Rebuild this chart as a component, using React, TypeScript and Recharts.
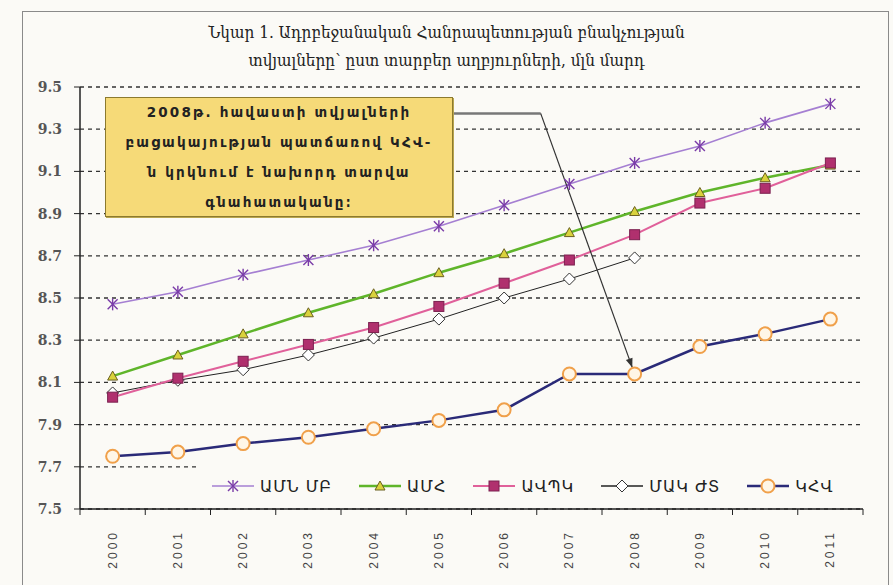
import React from "react";
import {
  LineChart,
  Line,
  XAxis,
  YAxis,
  CartesianGrid,
  ReferenceLine,
} from "recharts";

// population of Azerbaijan by source, mln people
const years = ["2000", "2001", "2002", "2003", "2004", "2005", "2006", "2007", "2008", "2009", "2010", "2011"];
const usCensus = [8.47, 8.53, 8.61, 8.68, 8.75, 8.84, 8.94, 9.04, 9.14, 9.22, 9.33, 9.42];
const imf = [8.13, 8.23, 8.33, 8.43, 8.52, 8.62, 8.71, 8.81, 8.91, 9.0, 9.07, 9.13];
const azStat = [8.03, 8.12, 8.2, 8.28, 8.36, 8.46, 8.57, 8.68, 8.8, 8.95, 9.02, 9.14];
const unDemog = [8.05, 8.11, 8.16, 8.23, 8.31, 8.4, 8.5, 8.59, 8.69, null, null, null];
const cia = [7.75, 7.77, 7.81, 7.84, 7.88, 7.92, 7.97, 8.14, 8.14, 8.27, 8.33, 8.4];

const yTicks = [7.5, 7.7, 7.9, 8.1, 8.3, 8.5, 8.7, 8.9, 9.1, 9.3, 9.5];

const titleLines = [
  "Նկար 1. Ադրբեջանական Հանրապետության բնակչության",
  "տվյալները՝ ըստ տարբեր աղբյուրների, մլն մարդ",
];
const noteLines = [
  "2008թ. հավաստի տվյալների",
  "բացակայության պատճառով ԿՀՎ-",
  "ն կրկնում է նախորդ տարվա",
  "գնահատականը։",
];

const series = [
  { key: "unDemog", name: "ՄԱԿ ԺՏ", values: unDemog, stroke: "#222", width: 1, shape: "diamond", mFill: "#fff", mStroke: "#333" },
  { key: "cia", name: "ԿՀՎ", values: cia, stroke: "#2a2a78", width: 2.5, shape: "circle", mFill: "#fff6e6", mStroke: "#f0a04a" },
  { key: "usCensus", name: "ԱՄՆ ՄԲ", values: usCensus, stroke: "#a57fd2", width: 1.6, shape: "star", mFill: "none", mStroke: "#7a3ca8" },
  { key: "imf", name: "ԱՄՀ", values: imf, stroke: "#5fb52a", width: 2.5, shape: "triangle", mFill: "#d9d23c", mStroke: "#6b6020" },
  { key: "azStat", name: "ԱՎՊԿ", values: azStat, stroke: "#e0609a", width: 2, shape: "square", mFill: "#b0306e", mStroke: "#7c2050" },
];
const legendOrder = ["usCensus", "imf", "azStat", "unDemog", "cia"];

const data = years.map((year, i) => {
  const row: Record<string, any> = { i, year };
  series.forEach((s) => (row[s.key] = s.values[i]));
  return row;
});

const bounds = years.map((_, i) => i - 0.5).concat(years.length - 0.5);
const centers = years.map((_, i) => i);

function Marker({ shape, cx, cy, fill, stroke }: any) {
  if (shape === "star") {
    const r = 5;
    return (
      <g stroke={stroke} strokeWidth={1.4}>
        <line x1={cx - r} y1={cy - r} x2={cx + r} y2={cy + r} />
        <line x1={cx - r} y1={cy + r} x2={cx + r} y2={cy - r} />
        <line x1={cx} y1={cy - r - 1} x2={cx} y2={cy + r + 1} />
      </g>
    );
  }
  if (shape === "triangle") {
    const s = 5;
    return (
      <polygon
        points={`${cx},${cy - s} ${cx + s},${cy + s * 0.8} ${cx - s},${cy + s * 0.8}`}
        fill={fill}
        stroke={stroke}
        strokeWidth={1}
      />
    );
  }
  if (shape === "square") {
    const s = 5;
    return <rect x={cx - s} y={cy - s} width={s * 2} height={s * 2} fill={fill} stroke={stroke} strokeWidth={1} />;
  }
  if (shape === "diamond") {
    const s = 6;
    return (
      <polygon
        points={`${cx},${cy - s} ${cx + s},${cy} ${cx},${cy + s} ${cx - s},${cy}`}
        fill={fill}
        stroke={stroke}
        strokeWidth={1}
      />
    );
  }
  return <circle cx={cx} cy={cy} r={6.5} fill={fill} stroke={stroke} strokeWidth={2} />;
}

const YearTick = (p: any) => {
  const { x, y, payload } = p;
  const ty = y + 7;
  return (
    <text
      x={x}
      y={ty}
      transform={`rotate(-90 ${x} ${ty})`}
      textAnchor="end"
      dominantBaseline="central"
      fontFamily="Liberation Sans, Arial, sans-serif"
      fontSize={12}
      letterSpacing={3}
      fill="#444"
    >
      {years[payload.value]}
    </text>
  );
};

const NoTick = () => null;

const Arrow = (p: any) => {
  const { x1, y1, x2, y2 } = p;
  const dx = x2 - x1;
  const dy = y2 - y1;
  const len = Math.sqrt(dx * dx + dy * dy);
  const ux = dx / len;
  const uy = dy / len;
  const ex = x2 - ux * 7;
  const ey = y2 - uy * 7;
  const hx = ex - ux * 9;
  const hy = ey - uy * 9;
  return (
    <g>
      <line x1={x1} y1={y1} x2={ex} y2={ey} stroke="#333" strokeWidth={1.2} />
      <polygon
        points={`${ex},${ey} ${hx - uy * 3.5},${hy + ux * 3.5} ${hx + uy * 3.5},${hy - ux * 3.5}`}
        fill="#333"
      />
    </g>
  );
};

export default function App() {
  const font = "DejaVu Serif, serif";
  return (
    <div
      style={{
        position: "absolute",
        left: 0,
        top: 0,
        width: 893,
        height: 585,
        background: "#fbfaf6",
        overflow: "hidden",
      }}
    >
      <div
        style={{
          position: "absolute",
          left: 22,
          top: 11,
          width: 865,
          height: 600,
          border: "1.5px solid #8a8a8a",
        }}
      />
      {titleLines.map((t, k) => (
        <div
          key={k}
          style={{
            position: "absolute",
            left: 0,
            width: 893,
            top: 22 + k * 28,
            textAlign: "center",
            fontFamily: font,
            fontSize: 17,
            color: "#222",
            fontStretch: "condensed",
          }}
        >
          {t}
        </div>
      ))}
      <div style={{ position: "absolute", left: 0, top: 0 }}>
        <LineChart
          width={893}
          height={585}
          data={data}
          margin={{ top: 87, right: 30, left: 30, bottom: 6 }}
        >
          <CartesianGrid
            xAxisId="b"
            vertical={false}
            stroke="#333"
            strokeWidth={1.3}
            strokeDasharray="4 4"
          />
          <XAxis
            xAxisId="b"
            dataKey="i"
            type="number"
            domain={[-0.5, years.length - 0.5]}
            ticks={bounds}
            allowDataOverflow
            tick={NoTick}
            tickSize={6}
            height={6}
            tickLine={{ stroke: "#222" }}
            axisLine={{ stroke: "#222", strokeWidth: 1.5 }}
          />
          <XAxis
            xAxisId="lab"
            dataKey="i"
            type="number"
            domain={[-0.5, years.length - 0.5]}
            ticks={centers}
            allowDataOverflow
            interval={0}
            tick={YearTick}
            tickLine={false}
            axisLine={false}
            height={64}
          />
          <YAxis
            domain={[7.5, 9.5]}
            ticks={yTicks}
            allowDataOverflow
            width={50}
            tickSize={6}
            tickMargin={12}
            interval={0}
            tickFormatter={(v: number) => v.toFixed(1)}
            tick={{ fontFamily: font, fontWeight: "bold", fontSize: 14, fill: "#555" }}
            tickLine={{ stroke: "#222" }}
            axisLine={{ stroke: "#222", strokeWidth: 1.5 }}
          />
          {series.map((s) => (
            <Line
              key={s.key}
              xAxisId="lab"
              dataKey={s.key}
              name={s.name}
              stroke={s.stroke}
              strokeWidth={s.width}
              isAnimationActive={false}
              connectNulls={false}
              dot={(p: any) =>
                p.value == null || p.cy == null ? (
                  <g key={`${s.key}-${p.index}`} />
                ) : (
                  <Marker
                    key={`${s.key}-${p.index}`}
                    shape={s.shape}
                    cx={p.cx}
                    cy={p.cy}
                    fill={s.mFill}
                    stroke={s.mStroke}
                  />
                )
              }
              activeDot={false}
            />
          ))}
          <ReferenceLine
            xAxisId="lab"
            segment={[
              { x: 5.2, y: 9.375 },
              { x: 6.56, y: 9.375 },
            ]}
            stroke="#777"
            strokeWidth={2.5}
          />
          <ReferenceLine
            xAxisId="lab"
            segment={[
              { x: 6.56, y: 9.375 },
              { x: 8, y: cia[8] },
            ]}
            shape={Arrow}
          />
        </LineChart>
      </div>
      <div
        style={{
          position: "absolute",
          left: 105,
          top: 97,
          width: 346,
          height: 118,
          background: "#f6da78",
          border: "1.5px solid #8c7a2e",
          boxShadow: "1px 1px 0 #b9a550",
          display: "flex",
          flexDirection: "column",
          justifyContent: "center",
          alignItems: "center",
          fontFamily: "DejaVu Sans, sans-serif",
          fontWeight: "bold",
          fontSize: 13.5,
          letterSpacing: 2.2,
          lineHeight: "30px",
          color: "#222",
        }}
      >
        {noteLines.map((t, k) => (
          <div key={k}>{t}</div>
        ))}
      </div>
      <div
        style={{
          position: "absolute",
          left: 196,
          top: 466,
          width: 668,
          height: 40,
          background: "#fbfaf6",
          display: "flex",
          alignItems: "center",
          fontFamily: "DejaVu Sans, sans-serif",
          fontSize: 16,
          letterSpacing: 1,
          color: "#222",
        }}
      >
        {legendOrder.map((k, n) => {
          const s = series.find((x) => x.key === k)!;
          return (
            <div key={k} style={{ display: "flex", alignItems: "center", marginLeft: n === 0 ? 16 : 27 }}>
              <svg width={42} height={16}>
                <line x1={0} y1={8} x2={42} y2={8} stroke={s.stroke} strokeWidth={Math.max(s.width, 1.5)} />
                <Marker shape={s.shape} cx={21} cy={8} fill={s.mFill} stroke={s.mStroke} />
              </svg>
              <span style={{ marginLeft: 6 }}>{s.name}</span>
            </div>
          );
        })}
      </div>
    </div>
  );
}
